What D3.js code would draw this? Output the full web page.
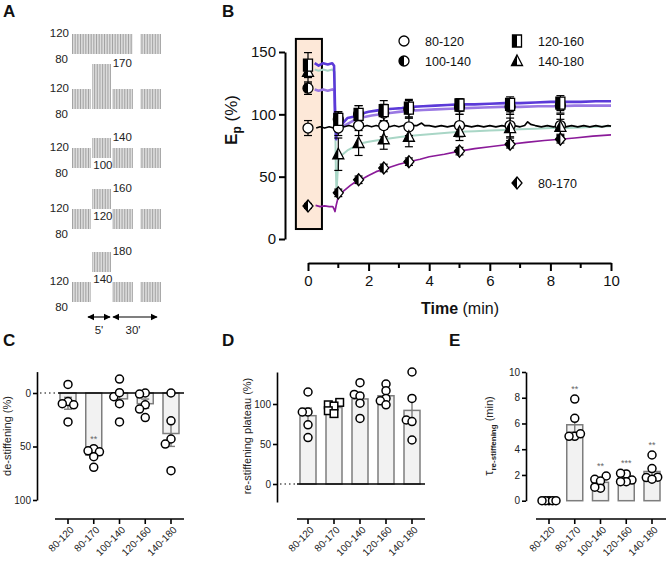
<!DOCTYPE html>
<html><head><meta charset="utf-8">
<script src="https://cdn.jsdelivr.net/npm/d3@7"></script>
<style>
body{margin:0;background:#fff}
svg{display:block;font-family:"Liberation Sans",Arial,Helvetica,sans-serif}
</style>
</head><body>
<script>
// ================= DATA =================
const protocols = ["80-120","80-170","100-140","120-160","140-180"];
// Panel A: pressure protocols (mmHg)
const baseLow = 80, baseHigh = 120;
const stepLow  = [80, 80, 100, 120, 140];
const stepHigh = [120, 170, 140, 160, 180];
const durationLabels = ["5'", "30'"];

// Panel B: mean values at time points (min)
const timePoints = [0, 1, 1.67, 2.5, 3.33, 5, 6.67, 8.33];
const mean80_120  = [89, 89, 91, 91, 90, 91, 91, 91];
const sem80_120   = [6, 6, 8, 9, 7, 9, 9, 9];
const mean100_140 = [121, 96, 100, 101, 104, 106, 106, 107];
const sem100_140  = [5, 6, 7, 7, 7, 6, 6, 6];
const mean120_160 = [139.5, 96, 100, 103, 105, 107.5, 108, 109];
const sem120_160  = [10, 6, 7, 8, 7, 5, 6, 6];
const mean140_180 = [134, 68, 77, 80, 82, 86, 89, 90];
const sem140_180  = [9, 13, 10, 8, 8, 7, 8, 6];
const mean80_170  = [26.5, 37, 47.5, 57, 62, 70.5, 76, 80];
const sem80_170   = [2, 3, 3, 3, 3, 3, 3, 3];

// Panel B: continuous traces [time (min), Ep (%)]
const trace80_120 = [[0.27,89],[0.4,90],[0.55,89],[0.7,90],[0.85,89],[0.95,88],[1.05,91],[1.2,90],[1.35,91],[1.5,90],[1.65,91],[1.8,90],[1.95,91],[2.1,90],[2.25,91],[2.4,90],[2.55,91],[2.7,90],[2.85,91],[3.0,90],[3.15,91],[3.3,90],[3.45,91],[3.6,91],[3.75,93],[3.85,91],[4.0,91],[4.2,90],[4.4,91],[4.6,90],[4.8,91],[5.0,90],[5.2,91],[5.4,90],[5.6,91],[5.8,90],[6.0,91],[6.2,90],[6.4,91],[6.6,90],[6.8,91],[7.0,90],[7.15,91],[7.25,94],[7.35,92],[7.5,91],[7.7,90],[7.9,91],[8.1,90],[8.3,91],[8.5,90],[8.7,91],[8.9,90],[9.1,91],[9.3,90],[9.5,91],[9.7,90],[9.9,91],[10,90.5]];
const trace100_140 = [[0.22,120],[0.35,119],[0.5,120],[0.65,119],[0.8,120],[0.87,119],[0.89,100],[0.92,86],[0.96,88],[1.0,85],[1.1,89],[1.2,91],[1.35,93],[1.5,95],[1.7,97],[1.9,98],[2.1,99],[2.4,100],[2.7,101],[3.0,102],[3.4,103],[3.8,103.5],[4.2,104],[4.7,104.5],[5.2,105],[5.8,105.5],[6.4,106],[7.0,106],[7.6,106.5],[8.2,106.5],[8.8,107],[9.4,107],[10,107]];
const trace120_160 = [[0.22,141],[0.35,139],[0.5,141],[0.65,140],[0.8,141],[0.86,139],[0.88,118],[0.9,96],[0.93,80],[0.96,90],[1.0,87],[1.05,94],[1.15,93],[1.3,97],[1.5,98],[1.67,100],[1.85,101],[2.0,102],[2.25,103],[2.5,104],[2.8,104.5],[3.1,105],[3.4,106],[3.8,106.5],[4.2,107],[4.6,107.5],[5.0,108],[5.5,108],[6.0,108.5],[6.5,109],[7.0,109],[7.5,109.5],[8.0,110],[8.5,110],[9.0,110],[9.5,110.5],[10,110.5]];
const trace140_180 = [[0.22,136],[0.35,135],[0.5,136],[0.65,135],[0.8,136],[0.88,134],[0.9,90],[0.92,55],[0.94,37],[0.97,50],[1.0,62],[1.05,66],[1.15,68],[1.3,71],[1.45,73],[1.6,75],[1.8,77],[2.0,78],[2.25,79],[2.5,80],[2.8,81],[3.1,82],[3.5,83],[4.0,84],[4.5,85],[5.0,86],[5.5,86.5],[6.0,87],[6.5,87.5],[7.0,88],[7.5,88.5],[8.0,89],[8.5,89],[9.0,89.5],[9.5,90],[10,90.5]];
const trace80_170 = [[0.25,27],[0.4,26],[0.55,26.5],[0.7,26],[0.82,26],[0.86,24],[0.89,22],[0.93,27],[0.97,31],[1.0,34],[1.1,37],[1.25,40],[1.4,43],[1.55,45.5],[1.67,47],[1.85,49],[2.0,51],[2.25,54],[2.5,56],[2.75,58],[3.0,60],[3.33,62],[3.7,64],[4.0,66],[4.5,68],[5.0,70.5],[5.5,72.5],[6.0,74],[6.67,76],[7.2,77.5],[7.8,79],[8.33,80],[8.8,81],[9.4,82.5],[10,83.5]];

// Panel C: de-stiffening (%), per protocol
const destiffening = [[-8,8,10,11,27],[52,54,55,59.5,69.5],[-13,3.5,-0.3,10,27],[0,1,11,15,23],[0,26,43,47.7,72.6]];
const sigC = ["","**","","",""];
// Panel D: re-stiffening plateau (%)
const plateau = [[115,90,90,74,58],[102,99,97.5,91.6,88],[126.6,112,110,101,82],[125,116.6,107,104,99],[140,107,80,78,55]];
// Panel E: tau re-stiffening (min)
const tauRestiff = [[0,0,0,0,0],[7.9,6.4,5.0,5.2,5.0],[1.92,1.66,1.53,0.97,1.05],[2.08,2.13,1.6,1.48,1.48],[3.55,2.5,1.8,1.83,1.67]];
const sigE = ["","**","**","***","**"];

// ================= DRAWING =================
const W = 667, H = 563;
const svg = d3.select("body").append("svg").attr("width", W).attr("height", H);
const defs = svg.append("defs");
defs.append("clipPath").attr("id","lh").append("rect").attr("x",-20).attr("y",-20).attr("width",20).attr("height",40);
defs.append("marker").attr("id","ah").attr("viewBox","0 0 10 10").attr("refX",9).attr("refY",5)
  .attr("markerWidth",6).attr("markerHeight",6).attr("orient","auto-start-reverse")
  .append("path").attr("d","M0,0 L10,5 L0,10 Z").attr("fill","#000");

function panelLetter(t, x, y){
  svg.append("text").attr("x",x).attr("y",y).attr("font-size",17).attr("font-weight","bold").attr("fill","#111").text(t);
}
panelLetter("A",3,17); panelLetter("B",222,17);
panelLetter("C",3,346); panelLetter("D",222,346); panelLetter("E",449,346);

// ---------- Panel A ----------
(function(){
  const g = svg.append("g");
  const xA = d3.scaleLinear().domain([0,15]).range([72,133]);
  const lateSeg = [16.9, 21.8];
  const rowY80 = [54, 109, 168, 229, 302];
  const pxPerMm = 0.5;
  const fs = 11.5;
  function block(x0, x1, yLow, yHigh){
    const xs = d3.range(x0+0.5, x1, 1.6);
    g.append("g").selectAll("line").data(xs).join("line")
      .attr("x1",d=>d).attr("x2",d=>d).attr("y1",yLow).attr("y2",yHigh)
      .attr("stroke","#999").attr("stroke-width",0.9);
  }
  protocols.forEach((p,i)=>{
    const yP = v => rowY80[i] - (v - baseLow)*pxPerMm;
    const same = stepLow[i]===baseLow && stepHigh[i]===baseHigh;
    if (same){
      block(xA(0), xA(15), yP(baseLow), yP(baseHigh));
    } else {
      block(xA(0), xA(5)-1, yP(baseLow), yP(baseHigh));
      block(xA(5), xA(10)-1, yP(stepLow[i]), yP(stepHigh[i]));
      block(xA(10), xA(15), yP(baseLow), yP(baseHigh));
      g.append("text").attr("x",xA(10)).attr("y",yP(stepHigh[i])+3).attr("font-size",fs).attr("fill","#222").text(stepHigh[i]);
      if (stepLow[i] !== baseLow)
        g.append("text").attr("x",xA(5)+1).attr("y",yP(stepLow[i])+11).attr("font-size",fs).attr("fill","#222").text(stepLow[i]);
    }
    block(xA(lateSeg[0]), xA(lateSeg[1]), yP(baseLow), yP(baseHigh));
    g.append("text").attr("x",69).attr("y",yP(baseHigh)+3).attr("text-anchor","end").attr("font-size",fs).attr("fill","#222").text(baseHigh);
    g.append("text").attr("x",68).attr("y",yP(baseLow)+9).attr("text-anchor","end").attr("font-size",fs).attr("fill","#222").text(baseLow);
  });
  const arrows = [[88,110],[113,157]];
  arrows.forEach((a,k)=>{
    g.append("line").attr("x1",a[0]).attr("x2",a[1]).attr("y1",317).attr("y2",317)
      .attr("stroke","#000").attr("stroke-width",1.2)
      .attr("marker-start","url(#ah)").attr("marker-end","url(#ah)");
    g.append("text").attr("x",(a[0]+a[1])/2 + (k? -2:0)).attr("y",334).attr("text-anchor","middle")
      .attr("font-size",fs).attr("fill","#222").text(durationLabels[k]);
  });
})();

// ---------- Panel B ----------
function shapePath(shape){
  switch(shape){
    case "circle": return "M-5,0A5,5 0 1 0 5,0A5,5 0 1 0 -5,0Z";
    case "square": return "M-4.5,-6H4.5V6H-4.5Z";
    case "triangle": return "M0,-6L5.5,4.5L-5.5,4.5Z";
    case "diamond": return "M0,-6L5,0L0,6L-5,0Z";
  }
}
function marker(parent, x, y, shape, half){
  const mg = parent.append("g").attr("transform",`translate(${x},${y})`);
  const d = shapePath(shape);
  mg.append("path").attr("d",d).attr("fill","#fff").attr("stroke","#000").attr("stroke-width",1.3);
  if (half) mg.append("path").attr("d",d).attr("fill","#000").attr("clip-path","url(#lh)");
}
(function(){
  const g = svg.append("g");
  const x = d3.scaleLinear().domain([0,10]).range([308,611]);
  const y = d3.scaleLinear().domain([0,150]).range([239,52]);

  g.append("rect").attr("x",x(-0.4)).attr("y",y(160.5)).attr("width",x(0.46)-x(-0.4)).attr("height",y(8)-y(160.5))
    .attr("fill","#fde8d8").attr("stroke","#000").attr("stroke-width",2);

  const line = d3.line().x(d=>x(d[0])).y(d=>y(d[1]));
  const traces = [
    {d:trace80_170, c:"#8a1a99", w:1.7},
    {d:trace140_180, c:"#a9d6c6", w:2},
    {d:trace100_140, c:"#9a78e3", w:2.6},
    {d:trace120_160, c:"#5b3ad8", w:2.6},
    {d:trace80_120, c:"#000", w:1.7}
  ];
  traces.forEach(t=>g.append("path").attr("d",line(t.d)).attr("fill","none").attr("stroke",t.c).attr("stroke-width",t.w).attr("stroke-linejoin","round"));

  const series = [
    {m:mean80_170, s:sem80_170, shape:"diamond", half:true},
    {m:mean80_120, s:sem80_120, shape:"circle", half:false},
    {m:mean140_180, s:sem140_180, shape:"triangle", half:true},
    {m:mean100_140, s:sem100_140, shape:"circle", half:true},
    {m:mean120_160, s:sem120_160, shape:"square", half:true}
  ];
  series.forEach(se=>{
    timePoints.forEach((t,i)=>{
      const cx = x(t), y1 = y(se.m[i]+se.s[i]), y0 = y(se.m[i]-se.s[i]);
      g.append("line").attr("x1",cx).attr("x2",cx).attr("y1",y1).attr("y2",y0).attr("stroke","#000").attr("stroke-width",1.2);
      g.append("line").attr("x1",cx-4).attr("x2",cx+4).attr("y1",y1).attr("y2",y1).attr("stroke","#000").attr("stroke-width",1.2);
      g.append("line").attr("x1",cx-4).attr("x2",cx+4).attr("y1",y0).attr("y2",y0).attr("stroke","#000").attr("stroke-width",1.2);
    });
  });
  series.forEach(se=>{
    timePoints.forEach((t,i)=>marker(g, x(t), y(se.m[i]), se.shape, se.half));
  });

  const ya = g.append("g").attr("transform","translate(285,0)")
    .call(d3.axisLeft(y).tickValues([0,50,100,150]).tickSize(6).tickSizeOuter(0).tickPadding(3));
  ya.select(".domain").attr("stroke-width",2);
  ya.selectAll(".tick line").attr("stroke-width",2);
  ya.selectAll("text").attr("font-size",15).attr("font-family","Liberation Sans, Arial, sans-serif").attr("fill","#111");

  const xa = g.append("g").attr("transform","translate(0,263)")
    .call(d3.axisBottom(x).tickValues([0,2,4,6,8,10]).tickSize(8).tickSizeOuter(0).tickPadding(4));
  xa.select(".domain").attr("stroke-width",2);
  xa.selectAll(".tick line").attr("stroke-width",2);
  xa.selectAll("text").attr("font-size",15).attr("font-family","Liberation Sans, Arial, sans-serif").attr("fill","#111");
  g.append("g").attr("transform","translate(0,263)").selectAll("line").data([1,3,5,7,9]).join("line")
    .attr("x1",d=>x(d)).attr("x2",d=>x(d)).attr("y1",0).attr("y2",5).attr("stroke","#000").attr("stroke-width",2);

  const xl = g.append("text").attr("x",460).attr("y",314).attr("text-anchor","middle").attr("font-size",16).attr("fill","#111");
  xl.append("tspan").attr("font-weight","bold").text("Time");
  xl.append("tspan").text(" (min)");

  const yl = g.append("text").attr("transform","translate(237,120) rotate(-90)").attr("text-anchor","middle").attr("font-size",17).attr("fill","#111");
  yl.append("tspan").attr("font-weight","bold").text("E");
  yl.append("tspan").attr("font-weight","bold").attr("font-size",12).attr("dy",4).text("p");
  yl.append("tspan").attr("dy",-4).text(" (%)");

  const leg = [
    {x:404, y:41, shape:"circle", half:false, t:protocols[0]},
    {x:404, y:61, shape:"circle", half:true, t:protocols[2]},
    {x:517, y:41, shape:"square", half:true, t:protocols[3]},
    {x:517, y:61, shape:"triangle", half:true, t:protocols[4]},
    {x:517, y:183, shape:"diamond", half:true, t:protocols[1]}
  ];
  leg.forEach(l=>{
    marker(g, l.x, l.y, l.shape, l.half);
    g.append("text").attr("x",l.x+21).attr("y",l.y+4.5).attr("font-size",12.5).attr("fill","#111").text(l.t);
  });
})();

// ---------- Bar panels C, D, E ----------
function swarm(vals, ypx, step, thr, maxOff){
  const idx = vals.map((v,i)=>i).sort((a,b)=>vals[a]-vals[b]);
  const placed = [], off = new Array(vals.length).fill(0);
  idx.forEach(i=>{
    const yy = ypx(vals[i]);
    for (let k=0;k<30;k++){
      const o = k===0 ? 0 : (k%2 ? -1 : 1)*Math.ceil(k/2)*step;
      if (placed.every(p=>Math.hypot(p.x-o, p.y-yy) >= thr)){ off[i]=o; placed.push({x:o,y:yy}); break; }
    }
  });
  const m = d3.max(off, Math.abs) || 0;
  const f = m > maxOff ? maxOff/m : 1;
  return off.map(o=>o*f);
}

function barPanel(o){
  const g = svg.append("g");
  const x = d3.scalePoint().domain(protocols).range(o.xr);
  const y = d3.scaleLinear().domain(o.dom).range(o.yr);
  const bw = 16;
  const means = o.data.map(a=>d3.mean(a));
  const sems = o.data.map(a=>d3.deviation(a)/Math.sqrt(a.length));

  if (o.baseline){
    g.append("line").attr("x1",o.dot[0]).attr("x2",o.dot[1]).attr("y1",y(0)).attr("y2",y(0))
      .attr("stroke","#000").attr("stroke-width",1.2).attr("stroke-dasharray","1.5,3");
  }
  protocols.forEach((p,i)=>{
    const yv = y(means[i]), y0 = y(0);
    g.append("rect").attr("x",x(p)-bw/2).attr("width",bw).attr("y",Math.min(yv,y0)).attr("height",Math.abs(yv-y0))
      .attr("fill","#f2f2f2").attr("stroke","#7d7d7d").attr("stroke-width",1.5);
  });
  if (o.baseline){
    g.append("line").attr("x1",o.dot[1]).attr("x2",o.xa[1]).attr("y1",y(0)).attr("y2",y(0))
      .attr("stroke","#000").attr("stroke-width",1.5);
  }
  protocols.forEach((p,i)=>{
    if (!sems[i]) return;
    const cx = x(p), a = y(means[i]-sems[i]), b = y(means[i]+sems[i]);
    g.append("line").attr("x1",cx).attr("x2",cx).attr("y1",a).attr("y2",b).attr("stroke","#7d7d7d").attr("stroke-width",1.4);
    [a,b].forEach(yy=>g.append("line").attr("x1",cx-4).attr("x2",cx+4).attr("y1",yy).attr("y2",yy).attr("stroke","#7d7d7d").attr("stroke-width",1.4));
  });
  protocols.forEach((p,i)=>{
    const offs = swarm(o.data[i], y, 5.7, 5.5, 7);
    o.data[i].forEach((v,j)=>{
      const cx = x(p)+offs[j], cy = y(v);
      if (o.squares && o.squares[i])
        g.append("rect").attr("x",cx-3.8).attr("y",cy-3.8).attr("width",7.6).attr("height",7.6).attr("fill","#fff").attr("stroke","#000").attr("stroke-width",1.5);
      else
        g.append("circle").attr("cx",cx).attr("cy",cy).attr("r",4).attr("fill","#fff").attr("stroke","#000").attr("stroke-width",1.5);
    });
    if (o.sig && o.sig[i]){
      const top = d3.min(o.data[i], v=>y(v));
      g.append("text").attr("x",x(p)).attr("y",top-7).attr("text-anchor","middle").attr("font-size",9)
        .attr("fill","#666").text(o.sig[i]);
    }
  });
  const ya = g.append("g").attr("transform",`translate(${o.yaxX},0)`)
    .call(d3.axisLeft(y).tickValues(o.ticks).tickSize(4).tickSizeOuter(0).tickPadding(2));
  ya.select(".domain").attr("stroke-width",1.6);
  ya.selectAll(".tick line").attr("stroke-width",1.6);
  ya.selectAll("text").attr("font-size",10).attr("font-family","Liberation Sans, Arial, sans-serif").attr("fill","#222");
  g.append("line").attr("x1",o.xa[0]).attr("x2",o.xa[1]).attr("y1",519).attr("y2",519).attr("stroke","#000").attr("stroke-width",1.6);
  protocols.forEach(p=>{
    g.append("line").attr("x1",x(p)).attr("x2",x(p)).attr("y1",519).attr("y2",524).attr("stroke","#000").attr("stroke-width",1.6);
    g.append("text").attr("transform",`translate(${x(p)+4},${528}) rotate(-45)`).attr("text-anchor","end")
      .attr("font-size",10).attr("dy","0.35em").attr("fill","#222").text(p);
  });
  return g;
}

barPanel({data:destiffening, xr:[68,171], dom:[-20,100], yr:[371.6,500], ticks:[0,50,100], yaxX:37,
  baseline:true, dot:[40,58], xa:[55,184], sig:sigC});
barPanel({data:plateau, xr:[308,412], dom:[-22.5,140], yr:[502,372], ticks:[0,50,100], yaxX:277,
  baseline:true, dot:[280,297], xa:[297,425], squares:[false,true,false,false,false]});
barPanel({data:tauRestiff, xr:[549,652], dom:[0,10], yr:[500.7,372], ticks:[0,2,4,6,8,10], yaxX:526,
  baseline:false, xa:[536,666], sig:sigE});

svg.append("text").attr("transform","translate(11,436) rotate(-90)").attr("text-anchor","middle").attr("font-size",11).attr("fill","#222").text("de-stiffening (%)");
svg.append("text").attr("transform","translate(251,436) rotate(-90)").attr("text-anchor","middle").attr("font-size",11).attr("fill","#222").text("re-stiffening plateau (%)");
const te = svg.append("text").attr("transform","translate(493,436) rotate(-90)").attr("text-anchor","middle").attr("font-size",11).attr("fill","#222");
te.append("tspan").attr("font-size",13).text("τ");
te.append("tspan").attr("font-size",8).attr("font-weight","bold").attr("dy",3).text("re-stiffening");
te.append("tspan").attr("dy",-3).text(" (min)");
</script>
</body></html>
